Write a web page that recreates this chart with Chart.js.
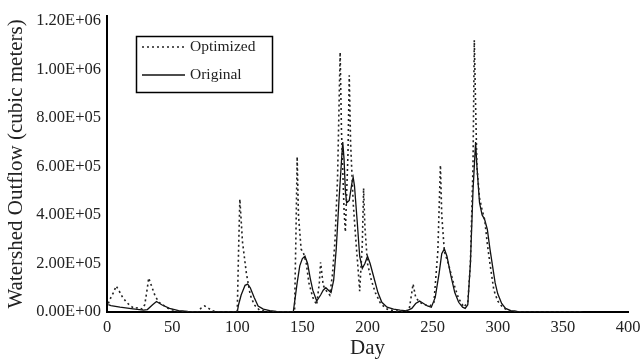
<!DOCTYPE html>
<html>
<head>
<meta charset="utf-8">
<script src="https://cdn.jsdelivr.net/npm/chart.js@4.4.1/dist/chart.umd.min.js"></script>
<style>
  html, body { margin: 0; padding: 0; background: #fff; }
  #wrap { width: 640px; height: 361px; }
</style>
</head>
<body>
<div id="wrap"><canvas id="flow-chart" width="640" height="361"></canvas></div>
<script>
// days and outflow (m3)
var origDays = [1, 3, 10, 20, 28, 31, 35, 38, 42, 48, 55, 62, 70, 80, 90, 100, 101, 103, 106, 108, 110, 113, 116, 120, 125, 130, 143, 144, 146, 148, 150, 152, 154, 156, 158, 161, 164, 166, 168, 170, 172, 174, 176, 178, 180, 181, 182, 183, 184, 186, 188, 189, 190, 192, 194, 196, 198, 200, 202, 205, 208, 211, 215, 220, 225, 230, 234, 237, 240, 243, 246, 249, 252, 255, 257, 259, 261, 264, 267, 270, 273, 275, 277, 279, 281, 283, 284, 286, 288, 290, 292, 294, 296, 298, 300, 303, 306, 310, 315, 320, 365];
var origValues = [3.0e4, 2.6e4, 2.0e4, 1.3e4, 8e3, 1.0e4, 3.0e4, 4.3e4, 3.0e4, 1.5e4, 6e3, 2e3, 1e3, 1e3, 0, 0, 3e4, 7e4, 1.1e5, 1.15e5, 1.0e5, 6e4, 2.5e4, 1.2e4, 6e3, 2e3, 0, 4e4, 1.2e5, 1.9e5, 2.2e5, 2.3e5, 2.0e5, 1.4e5, 9e4, 4.5e4, 7e4, 9e4, 1.0e5, 9e4, 8e4, 1.3e5, 2.6e5, 4.5e5, 6.2e5, 7.0e5, 6.3e5, 5.0e5, 4.5e5, 4.6e5, 5.3e5, 5.55e5, 5.2e5, 3.8e5, 2.3e5, 1.8e5, 2.0e5, 2.3e5, 2.0e5, 1.4e5, 8e4, 4e4, 2e4, 1.2e4, 8e3, 5e3, 1.5e4, 3.5e4, 4.5e4, 3.5e4, 2.5e4, 2.0e4, 6e4, 1.6e5, 2.4e5, 2.6e5, 2.3e5, 1.5e5, 8e4, 4e4, 2.0e4, 1.5e4, 3e4, 2.0e5, 5.0e5, 7.0e5, 6.0e5, 4.5e5, 4.0e5, 3.8e5, 3.4e5, 2.6e5, 1.9e5, 1.2e5, 7.5e4, 3.5e4, 1.5e4, 6e3, 2e3, 0, 0];

var optDays = [1, 3, 5, 7, 9, 12, 15, 18, 21, 24, 27, 29, 31, 32, 34, 37, 40, 44, 48, 54, 60, 70, 72, 75, 78, 81, 85, 100, 101, 102, 104, 107, 110, 113, 117, 122, 130, 144, 145, 146, 147, 149, 151, 153, 155, 158, 161, 163, 164, 166, 168, 171, 173, 175, 177, 179, 180, 182, 183, 185, 186, 187, 189, 191, 193, 194, 196, 197, 198, 200, 203, 206, 210, 215, 220, 228, 232, 235, 237, 240, 244, 248, 251, 254, 256, 257, 259, 262, 266, 270, 274, 277, 279, 281, 282, 283, 284, 286, 288, 290, 292, 294, 297, 300, 304, 309, 315, 320, 365];
var optValues = [3.5e4, 6e4, 8e4, 1.07e5, 9e4, 6e4, 4e4, 2.5e4, 1.5e4, 1.8e4, 1.2e4, 3e4, 1.0e5, 1.4e5, 1.1e5, 6.5e4, 4e4, 2.5e4, 1.2e4, 4e3, 1e3, 0, 1.5e4, 2.5e4, 1.5e4, 5e3, 0, 0, 2.5e5, 4.65e5, 2.9e5, 1.6e5, 7e4, 3e4, 8e3, 3e3, 0, 0, 3.0e5, 6.4e5, 4.0e5, 2.6e5, 2.4e5, 2.0e5, 1.2e5, 6e4, 3e4, 1.2e5, 2.05e5, 1.1e5, 9e4, 7e4, 1.5e5, 2.9e5, 5.5e5, 1.07e6, 7.5e5, 4.2e5, 3.3e5, 6.5e5, 9.75e5, 7.0e5, 4.5e5, 3.0e5, 1.6e5, 8.6e4, 2.8e5, 5.1e5, 3.5e5, 2.0e5, 1.3e5, 8e4, 3.5e4, 1.2e4, 5e3, 2e3, 1e4, 1.15e5, 6e4, 4e4, 3e4, 2.5e4, 4e4, 2.5e5, 6.05e5, 4.0e5, 2.5e5, 2.0e5, 1.2e5, 5.5e4, 2.0e4, 4e4, 2.0e5, 6.0e5, 1.12e6, 8.5e5, 6.0e5, 4.7e5, 4.2e5, 3.8e5, 2.8e5, 2.0e5, 9e4, 4.5e4, 1.8e4, 5e3, 1e3, 0, 0];

var yTicks = [0, 2e5, 4e5, 6e5, 8e5, 1e6, 1.2e6];
var xTicks = [0, 50, 100, 150, 200, 250, 300, 350, 400];

var serif = '"Liberation Serif", "DejaVu Serif", serif';

function toPoints(days, vals) {
  var pts = [];
  for (var i = 0; i < days.length; i++) pts.push({ x: days[i], y: vals[i] });
  return pts;
}

function sci(v) {
  var parts = v.toExponential(2).split('e');
  var e = parts[1];
  return parts[0] + 'E' + e[0] + e.slice(1).padStart(2, '0');
}

// boxed legend inside the plot, like the figure
var boxLegend = {
  id: 'boxLegend',
  afterDraw: function (chart) {
    var c = chart.ctx;
    c.save();
    c.strokeStyle = '#000';
    c.lineWidth = 1.5;
    c.strokeRect(136.5, 36.5, 136, 56);
    c.font = '15.5px ' + serif;
    c.fillStyle = '#222';
    c.textBaseline = 'middle';
    chart.data.datasets.forEach(function (ds, i) {
      var y = 47 + i * 28;
      c.beginPath();
      c.strokeStyle = ds.borderColor;
      c.lineWidth = ds.borderWidth;
      c.setLineDash(ds.borderDash || []);
      c.moveTo(142, y);
      c.lineTo(185, y);
      c.stroke();
      c.setLineDash([]);
      c.fillText(ds.label, 190, y);
    });
    c.restore();
  }
};

document.addEventListener('DOMContentLoaded', function () {
  var ctx = document.getElementById('flow-chart').getContext('2d');
  new Chart(ctx, {
    type: 'line',
    data: {
      datasets: [{
        label: 'Optimized',
        data: toPoints(optDays, optValues),
        borderColor: '#222',
        borderWidth: 1.6,
        borderDash: [2, 3],
        pointRadius: 0,
        tension: 0,
        fill: false
      }, {
        label: 'Original',
        data: toPoints(origDays, origValues),
        borderColor: '#111',
        borderWidth: 1.3,
        pointRadius: 0,
        tension: 0,
        fill: false
      }]
    },
    options: {
      responsive: false,
      animation: false,
      layout: { padding: { left: 0, right: 12, top: 0, bottom: 0 } },
      plugins: { legend: { display: false }, tooltip: { enabled: false } },
      scales: {
        x: {
          type: 'linear',
          min: 0,
          max: 400,
          afterBuildTicks: function (s) { s.ticks = xTicks.map(function (v) { return { value: v }; }); },
          afterFit: function (s) { s.height = 49; s.paddingRight = 0; s.paddingLeft = 0; },
          grid: { display: false, drawTicks: false },
          border: { display: true, color: '#000', width: 2 },
          ticks: { padding: 6, color: '#222', font: { family: serif, size: 16.5 } },
          title: { display: true, text: 'Day', color: '#222', font: { family: serif, size: 21 }, padding: { top: 0, bottom: 0 } }
        },
        y: {
          min: 0,
          max: 1.22e6,
          afterBuildTicks: function (s) { s.ticks = yTicks.map(function (v) { return { value: v }; }); },
          afterFit: function (s) { s.width = 107; },
          grid: { display: false, drawTicks: false },
          border: { display: true, color: '#000', width: 2 },
          ticks: { padding: 6, color: '#222', font: { family: serif, size: 16.5 }, callback: function (v) { return sci(v); } },
          title: { display: true, text: 'Watershed Outflow (cubic meters)', color: '#222', font: { family: serif, size: 21 }, padding: { top: 4, bottom: 0 } }
        }
      }
    },
    plugins: [boxLegend]
  });
});
</script>
</body>
</html>
